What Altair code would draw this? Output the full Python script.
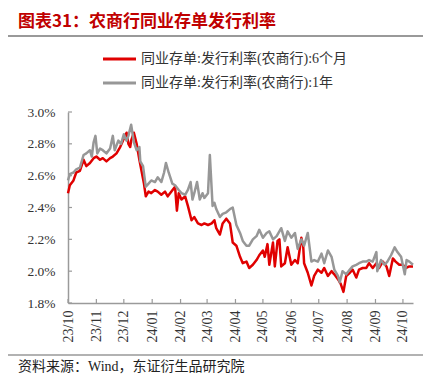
import altair as alt
import pandas as pd

START = "2023-10-01"

# 6-month series (days since 2023-10-01, rate in %)
red_days = [0, 2, 6, 9, 13, 17, 20, 24, 28, 31, 35, 38, 42, 46, 49, 53, 57, 60, 64, 66, 68, 69, 72, 75,
            78, 80, 83, 85, 88, 91, 95, 98, 102, 106, 109, 113, 117, 119, 121, 124, 128, 131, 135, 138,
            142, 146, 149, 153, 157, 160, 162, 166, 169, 173, 177, 180, 184, 188, 191, 195, 198, 202,
            206, 209, 213, 215, 218, 220, 224, 226, 229, 231, 233, 237, 240, 244, 248, 251, 255, 257,
            258, 262, 266, 269, 273, 277, 280, 284, 288, 291, 295, 298, 301, 304, 308, 311, 315, 318,
            322, 326, 329, 333, 337, 340, 344, 348, 351, 355, 358, 362, 366, 369, 373, 377]
red_vals = [2.49, 2.54, 2.57, 2.62, 2.63, 2.70, 2.66, 2.68, 2.71, 2.72, 2.70, 2.71, 2.69, 2.71, 2.72, 2.74,
            2.78, 2.82, 2.87, 2.80, 2.78, 2.82, 2.87, 2.80, 2.70, 2.64, 2.55, 2.47, 2.50, 2.49, 2.51, 2.50,
            2.48, 2.50, 2.47, 2.50, 2.53, 2.38, 2.49, 2.45, 2.47, 2.41, 2.32, 2.34, 2.30, 2.29, 2.30, 2.29,
            2.30, 2.32, 2.27, 2.23, 2.30, 2.33, 2.30, 2.18, 2.16, 2.09, 2.05, 2.06, 2.02, 2.04, 2.07, 2.10,
            2.13, 2.09, 2.17, 2.04, 2.18, 2.03, 2.19, 2.20, 2.03, 2.05, 2.15, 2.04, 2.07, 2.05, 2.21, 2.16,
            2.05, 1.99, 1.91, 1.97, 2.01, 1.99, 2.02, 1.97, 2.00, 1.98, 1.95, 1.92, 1.87, 1.97, 1.99, 2.01,
            1.96, 2.01, 2.02, 2.02, 2.05, 2.02, 2.05, 2.02, 2.06, 2.03, 1.97, 2.08, 2.06, 2.04, 2.04, 2.02,
            2.03, 2.03]

# 1-year series
gray_days = [0, 2, 6, 9, 13, 17, 20, 24, 26, 28, 30, 32, 35, 38, 42, 46, 49, 51, 55, 58, 61, 64, 66, 69,
             72, 75, 78, 79, 82, 85, 88, 91, 95, 98, 102, 105, 107, 110, 114, 117, 121, 124, 128, 131,
             134, 136, 138, 141, 144, 147, 149, 153, 155, 158, 160, 162, 166, 169, 173, 177, 180, 184,
             188, 191, 195, 198, 202, 206, 209, 213, 217, 220, 224, 228, 233, 237, 240, 244, 248, 251,
             255, 258, 262, 266, 269, 273, 277, 280, 284, 288, 291, 295, 297, 300, 304, 308, 311, 315,
             318, 322, 326, 329, 333, 337, 338, 342, 346, 349, 353, 357, 360, 364, 368, 370, 373, 377]
gray_vals = [2.57, 2.61, 2.62, 2.64, 2.65, 2.73, 2.74, 2.76, 2.72, 2.81, 2.85, 2.74, 2.77, 2.76, 2.74, 2.77,
             2.85, 2.76, 2.82, 2.80, 2.86, 2.82, 2.85, 2.92, 2.81, 2.76, 2.78, 2.69, 2.66, 2.53, 2.55, 2.57,
             2.56, 2.59, 2.56, 2.62, 2.68, 2.62, 2.55, 2.54, 2.51, 2.49, 2.48, 2.51, 2.56, 2.45, 2.49, 2.56,
             2.45, 2.49, 2.46, 2.49, 2.73, 2.41, 2.43, 2.39, 2.34, 2.36, 2.37, 2.39, 2.40, 2.29, 2.24, 2.19,
             2.16, 2.16, 2.20, 2.22, 2.26, 2.21, 2.24, 2.25, 2.20, 2.22, 2.27, 2.19, 2.25, 2.21, 2.24, 2.14,
             2.20, 2.16, 2.24, 2.06, 2.07, 2.06, 2.11, 2.05, 2.13, 2.09, 2.01, 1.97, 1.93, 2.00, 1.98, 2.01,
             2.03, 2.04, 2.05, 2.06, 2.06, 2.07, 2.06, 2.12, 2.00, 2.07, 2.04, 2.06, 2.10, 2.15, 2.12, 2.09,
             1.98, 2.07, 2.06, 2.04]

month_ticks = ["2023-10-01", "2023-11-01", "2023-12-01", "2024-01-01", "2024-02-01", "2024-03-01",
               "2024-04-01", "2024-05-01", "2024-06-01", "2024-07-01", "2024-08-01", "2024-09-01",
               "2024-10-01"]
y_ticks = [1.8, 2.0, 2.2, 2.4, 2.6, 2.8, 3.0]

name6 = "同业存单:发行利率(农商行):6个月"
name1 = "同业存单:发行利率(农商行):1年"
title_text = "图表31：农商行同业存单发行利率"
source_text = "资料来源：Wind，东证衍生品研究院"

RED = "#E00000"
GRAY = "#979797"
AXIS = "#9a9a9a"
FONT = "'Liberation Serif', 'Noto Sans CJK SC'"
W, H = 345, 191

base = pd.Timestamp(START)
red_df = pd.DataFrame({"date": base + pd.to_timedelta(red_days, unit="D"), "rate": red_vals, "series": name6})
gray_df = pd.DataFrame({"date": base + pd.to_timedelta(gray_days, unit="D"), "rate": gray_vals, "series": name1})
tick_df = pd.DataFrame({"date": pd.to_datetime(month_ticks)})
ytick_df = pd.DataFrame({"rate": y_ticks})

xscale = alt.Scale(domain=[alt.DateTime(year=2023, month=10, date=1),
                           alt.DateTime(year=2024, month=10, date=12)])
yscale = alt.Scale(domain=[1.8, 3.0], nice=False, zero=False)
cscale = alt.Scale(domain=[name6, name1], range=[RED, GRAY])

xaxis = alt.Axis(values=[alt.DateTime(year=int(m[:4]), month=int(m[5:7]), date=1) for m in month_ticks],
                 format="%y/%m", labelAngle=270, labelAlign="right", labelBaseline="middle",
                 labelFont=FONT, labelFontSize=14, labelColor="#333333", tickSize=0, labelPadding=7,
                 domainColor=AXIS, domainWidth=1.5, grid=False, title=None, labelFlush=False,
                 labelOverlap=False)
yaxis = alt.Axis(values=y_ticks, labelExpr="format(datum.value, '.1f') + '%'",
                 labelFont=FONT, labelFontSize=13.5, labelColor="#333333", tickSize=0, labelPadding=13,
                 domainColor=AXIS, domainWidth=1.5, grid=False, title=None, labelFlush=False,
                 labelOverlap=False)


def series_layer(df):
    return alt.Chart(df).mark_line(strokeWidth=2.5, strokeJoin="round").encode(
        x=alt.X("date:T", scale=xscale, axis=xaxis),
        y=alt.Y("rate:Q", scale=yscale, axis=yaxis),
        color=alt.Color("series:N", scale=cscale, legend=None),
    )


red_line = series_layer(red_df)
gray_line = series_layer(gray_df)

xticks = alt.Chart(tick_df).mark_rule(color=AXIS, strokeWidth=1.2).encode(
    x=alt.X("date:T", scale=xscale, axis=xaxis), y=alt.value(H - 4), y2=alt.value(H))
yticks = alt.Chart(ytick_df).mark_rule(color=AXIS, strokeWidth=1.2).encode(
    y=alt.Y("rate:Q", scale=yscale, axis=yaxis), x=alt.value(0), x2=alt.value(4))

one = pd.DataFrame({"k": [0]})


def hline(x1, x2, y, color, sw):
    return alt.Chart(one).mark_rule(color=color, strokeWidth=sw).encode(
        x=alt.value(x1), x2=alt.value(x2), y=alt.value(y))


def label(text, x, y, size, color, weight="normal", font=FONT):
    return alt.Chart(pd.DataFrame({"t": [text]})).mark_text(
        align="left", baseline="middle", fontSize=size, color=color, fontWeight=weight, font=font
    ).encode(x=alt.value(x), y=alt.value(y), text="t:N")


leg1 = hline(35, 68, -53, RED, 3)
leg1t = label(name6, 73, -53, 14, "#333333")
leg2 = hline(35, 68, -29, GRAY, 3)
leg2t = label(name1, 73, -29, 14, "#333333")

title = label(title_text, -50, -90, 17, "#C00000", "bold", "'Noto Sans CJK SC'")
title_rule = hline(-68, 355, -76, "#999999", 2)
foot_rule = hline(-68, 355, 243, "#666666", 1.2)
foot = label(source_text, -50, 255, 14, "#222222")

chart = alt.layer(
    red_line, gray_line, xticks, yticks, leg1, leg1t, leg2, leg2t, title, title_rule, foot_rule, foot
).properties(
    width=W, height=H, autosize="none",
    padding={"left": 60, "top": 104, "right": 14, "bottom": 78},
    background="white",
).configure_view(stroke=None)

chart.save("out.html", embed_options={"renderer": "svg", "actions": False})
